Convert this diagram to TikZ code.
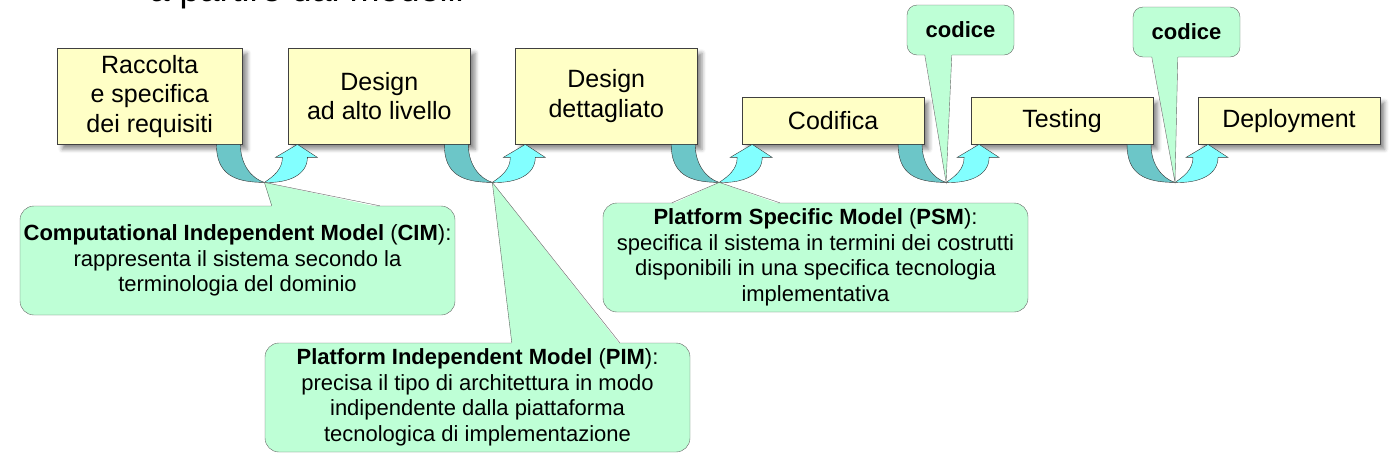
\documentclass[tikz,border=0pt]{standalone}
\usepackage{fontspec}
\setmainfont{Liberation Sans}
\usetikzlibrary{positioning,calc,shadows.blur}

\definecolor{boxyellow}{RGB}{255,255,198}
\definecolor{notegreen}{RGB}{190,255,214}
\definecolor{bendteal}{RGB}{108,198,200}
\definecolor{bendcyan}{RGB}{130,255,255}

\begin{document}
\begin{tikzpicture}[x=1pt, y=-1pt,
  phase/.style={rectangle, draw=black!75, fill=boxyellow, align=center, minimum width=181.5pt, inner sep=2pt, font=\fontsize{25}{29.5}\selectfont, blur shadow={shadow xshift=5pt, shadow yshift=-5pt, shadow blur radius=4pt, shadow opacity=45}},
  tallphase/.style={phase, minimum height=96pt},
  lowphase/.style={phase, minimum height=47pt},
  note/.style={rectangle, rounded corners=14pt, draw=black!60, fill=notegreen, align=center, inner sep=0pt, font=\fontsize{22}{25.5}\selectfont},
  codenote/.style={note, rounded corners=10pt, minimum width=107pt, minimum height=50pt, font=\fontsize{22}{26}\selectfont\bfseries},
  noteline/.style={draw=black!60},
  bendband/.style={fill=bendteal, draw=black!80},
  bendup/.style={fill=bendcyan, draw=black!80}]
	\useasboundingbox (0,0) rectangle (1400,472);
	\clip (0,0) rectangle (1400,472);
	\node[anchor=base west, font=\fontsize{36}{40}\selectfont] (heading) at (146,1) {a partire dai modelli};
	% phases
	\node[tallphase, minimum width=185pt, anchor=north west] (box1) at (57,48) {Raccolta\\e specifica\\dei requisiti};
	\node[tallphase, right=46pt of box1.south east, anchor=south west] (box2) {Design\\ad alto livello};
	\node[tallphase, right=45pt of box2.south east, anchor=south west] (box3) {Design\\dettagliato};
	\node[lowphase, right=45pt of box3.south east, anchor=south west] (box4) {Codifica};
	\node[lowphase, right=47pt of box4.south east, anchor=south west] (box5) {Testing};
	\node[lowphase, right=45pt of box5.south east, anchor=south west] (box6) {Deployment};
	% bent arrows between phases
	\foreach \a [count=\i] in {box1,box2,box3,box4,box5}{
		\coordinate (j\i) at ($(\a.south east)+(22,38)$);
		\filldraw[bendband] ($(j\i)+(-48,-38)$) .. controls +(0,30) and +(-30,0) .. (j\i) .. controls +(-13,-4) and +(0,20) .. ($(j\i)+(-24,-38)$) -- cycle;
		\filldraw[bendup] (j\i) .. controls +(25,1) and +(0,17) .. ($(j\i)+(43,-25)$) -- ++(10,0) -- ($(j\i)+(33,-38)$) -- ($(j\i)+(11,-25)$) -- ++(7,0) .. controls +(0,12) and +(9,-6) .. (j\i) -- cycle;
	}
	% notes
	\node[note, minimum width=435pt, minimum height=109pt] (cim) at (237.5,260.5) {\textbf{Computational Independent Model} (\textbf{CIM}):\\rappresenta il sistema secondo la\\terminologia del dominio};
	\node[note, minimum width=425pt, minimum height=109pt] (pim) at (477.5,397.5) {\textbf{Platform Independent Model} (\textbf{PIM}):\\precisa il tipo di architettura in modo\\indipendente dalla piattaforma\\tecnologica di implementazione};
	\node[note, minimum width=425pt, minimum height=109pt] (psm) at (815.5,257.5) {\textbf{Platform Specific Model} (\textbf{PSM}):\\specifica il sistema in termini dei costrutti\\disponibili in una specifica tecnologia\\implementativa};
	\node[codenote] (code1) at (960.5,30) {codice};
	\node[codenote] (code2) at (1186.5,32) {codice};
	% pointers
	\foreach \n/\c/\j/\p/\q/\s in {cim/north west/j1/252/360/1.5, pim/north west/j2/247/355/1.5, psm/north west/j3/69/177/1.5, code1/south west/j4/18/45/-1.5, code2/south west/j5/19/45/-1.5}{
		\fill[notegreen] ($(\n.\c)+(\p,\s)$) -- (\j) -- ($(\n.\c)+(\q,\s)$) -- cycle;
		\draw[noteline] ($(\n.\c)+(\p,0)$) -- (\j) -- ($(\n.\c)+(\q,0)$);
	}
\end{tikzpicture}
\end{document}
